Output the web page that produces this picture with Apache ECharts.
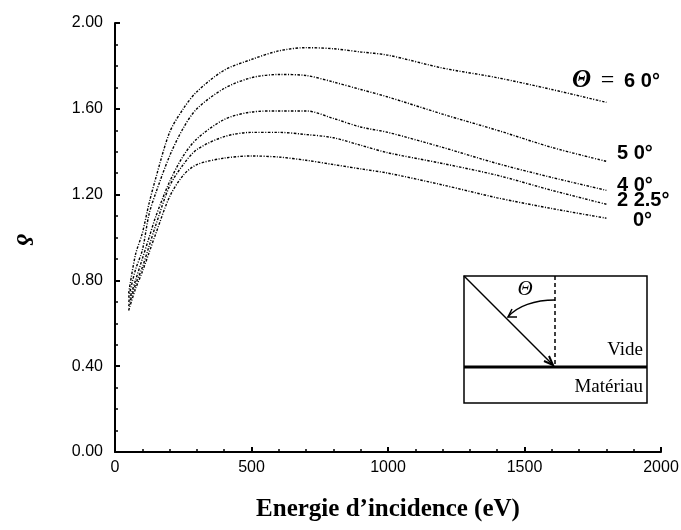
<!DOCTYPE html>
<html>
<head>
<meta charset="utf-8">
<script src="https://cdn.jsdelivr.net/npm/echarts@6/dist/echarts.min.js"></script>
<style>
html, body { margin: 0; padding: 0; background: #fff; }
#delta-chart { width: 681px; height: 530px; }
</style>
</head>
<body>
<div id="delta-chart"></div>
<script>
// energie d'incidence (eV)
const energies = [50, 75, 100, 125, 150, 200, 250, 300, 400, 500, 600, 700, 800, 900, 1000, 1200, 1400, 1600, 1800]

// delta pour chaque angle d'incidence
const delta60 = [0.74, 0.92, 1.02, 1.16, 1.28, 1.49, 1.60, 1.68, 1.78, 1.83, 1.87, 1.885, 1.88, 1.865, 1.85, 1.79, 1.745, 1.69, 1.63]
const delta50 = [0.72, 0.85, 0.94, 1.11, 1.21, 1.38, 1.51, 1.60, 1.695, 1.745, 1.76, 1.755, 1.725, 1.69, 1.655, 1.575, 1.50, 1.42, 1.355]
const delta40 = [0.70, 0.80, 0.90, 1.00, 1.10, 1.26, 1.38, 1.46, 1.55, 1.585, 1.59, 1.59, 1.555, 1.515, 1.49, 1.42, 1.345, 1.28, 1.22]
const delta225 = [0.68, 0.78, 0.86, 0.96, 1.06, 1.24, 1.34, 1.41, 1.47, 1.49, 1.49, 1.48, 1.465, 1.43, 1.395, 1.345, 1.29, 1.22, 1.155]
const delta0 = [0.66, 0.76, 0.84, 0.93, 1.02, 1.19, 1.29, 1.34, 1.37, 1.38, 1.375, 1.36, 1.34, 1.32, 1.30, 1.245, 1.185, 1.135, 1.09]

const curves = [delta60, delta50, delta40, delta225, delta0]
const angleNames = ['60°', '50°', '40°', '22.5°', '0°']

const xTicks = [0, 500, 1000, 1500, 2000]
const yTicks = [0, 0.4, 0.8, 1.2, 1.6, 2.0]

const serif = '"Liberation Serif", "Times New Roman", serif'
const sans = '"Liberation Sans", Arial, sans-serif'

let chart = echarts.init(document.getElementById('delta-chart'))

let axisCommon = {
  axisLine: { lineStyle: { color: '#000', width: 2 } },
  axisTick: { inside: true, length: 5, lineStyle: { color: '#000', width: 2 } },
  minorTick: { show: true, length: 3, lineStyle: { color: '#000', width: 1.5 } },
  splitLine: { show: false },
  axisLabel: { color: '#000', fontFamily: sans, fontSize: 16 }
}

chart.setOption({
  animation: false,
  backgroundColor: '#fff',
  grid: { left: 115, right: 20, top: 23, bottom: 78, containLabel: false, outerBoundsMode: 'none' },
  xAxis: Object.assign({}, axisCommon, {
    type: 'value',
    min: xTicks[0],
    max: xTicks[xTicks.length - 1],
    interval: 500,
    minorTick: Object.assign({}, axisCommon.minorTick, { splitNumber: 5 }),
    axisLabel: Object.assign({}, axisCommon.axisLabel, { margin: 8, formatter: v => String(v) }),
    name: 'Energie d’incidence (eV)',
    nameLocation: 'middle',
    nameGap: 45,
    nameTextStyle: { color: '#000', fontFamily: serif, fontWeight: 'bold', fontSize: 25 }
  }),
  yAxis: Object.assign({}, axisCommon, {
    type: 'value',
    min: yTicks[0],
    max: yTicks[yTicks.length - 1],
    interval: 0.4,
    minorTick: Object.assign({}, axisCommon.minorTick, { splitNumber: 4 }),
    axisLabel: Object.assign({}, axisCommon.axisLabel, {
      margin: 12,
      formatter: v => v.toFixed(2)
    })
  }),
  series: curves.map((vals, i) => ({
    name: angleNames[i],
    type: 'line',
    smooth: 0.3,
    symbol: 'none',
    lineStyle: { color: '#000', width: 1.4, type: [2.5, 1.5, 1, 1.5] },
    data: energies.map((e, k) => [e, vals[k]])
  })),
  graphic: [
    // delta axis name, turned sideways
    {
      type: 'text', x: 23, y: 240, rotation: -Math.PI / 2,
      style: { text: 'δ', fill: '#000', font: 'italic bold 24px ' + serif, align: 'center', verticalAlign: 'middle' }
    },
    // curve labels
    {
      type: 'text', x: 572, y: 81,
      style: {
        text: '{t|Θ}{e|=}{n|6 0°}',
        verticalAlign: 'middle',
        rich: {
          t: { fontFamily: serif, fontStyle: 'italic', fontWeight: 'bold', fontSize: 25, fill: '#000' },
          e: { fontFamily: serif, fontSize: 24, fill: '#000', width: 33, align: 'center' },
          n: { fontFamily: sans, fontWeight: 'bold', fontSize: 20, fill: '#000' }
        }
      }
    },
    { type: 'text', x: 617, y: 153, style: { text: '5 0°', fill: '#000', font: 'bold 20px ' + sans, verticalAlign: 'middle' } },
    { type: 'text', x: 617, y: 185, style: { text: '4 0°', fill: '#000', font: 'bold 20px ' + sans, verticalAlign: 'middle' } },
    { type: 'text', x: 617, y: 200, style: { text: '2 2.5°', fill: '#000', font: 'bold 20px ' + sans, verticalAlign: 'middle' } },
    { type: 'text', x: 633, y: 220, style: { text: '0°', fill: '#000', font: 'bold 20px ' + sans, verticalAlign: 'middle' } },
    // inset: incidence sketch
    {
      type: 'rect', shape: { x: 464, y: 276, width: 183, height: 127 },
      style: { fill: '#fff', stroke: '#000', lineWidth: 1.5 }
    },
    { type: 'line', shape: { x1: 464, y1: 367, x2: 647, y2: 367 }, style: { stroke: '#000', lineWidth: 3 } },
    { type: 'line', shape: { x1: 555, y1: 276, x2: 555, y2: 366 }, style: { stroke: '#000', lineWidth: 1.5, lineDash: [4, 3] } },
    { type: 'line', shape: { x1: 464, y1: 276, x2: 553, y2: 365 }, style: { stroke: '#000', lineWidth: 1.5 } },
    { type: 'polyline', shape: { points: [[549, 356], [553, 365], [544, 361]] }, style: { stroke: '#000', fill: null, lineWidth: 2 } },
    {
      type: 'bezierCurve',
      shape: { x1: 555, y1: 300, cpx1: 535, cpy1: 300, cpx2: 517, cpy2: 306, x2: 508, y2: 317 },
      style: { stroke: '#000', fill: null, lineWidth: 1.5 }
    },
    { type: 'polyline', shape: { points: [[512, 309], [508, 317], [517, 317]] }, style: { stroke: '#000', fill: null, lineWidth: 1.5 } },
    { type: 'text', x: 525, y: 289, style: { text: 'Θ', fill: '#000', font: 'italic 21px ' + serif, align: 'center', verticalAlign: 'middle' } },
    { type: 'text', x: 643, y: 350, style: { text: 'Vide', fill: '#000', font: '19px ' + serif, align: 'right', verticalAlign: 'middle' } },
    { type: 'text', x: 643, y: 387, style: { text: 'Matériau', fill: '#000', font: '19px ' + serif, align: 'right', verticalAlign: 'middle' } }
  ]
})
</script>
</body>
</html>
